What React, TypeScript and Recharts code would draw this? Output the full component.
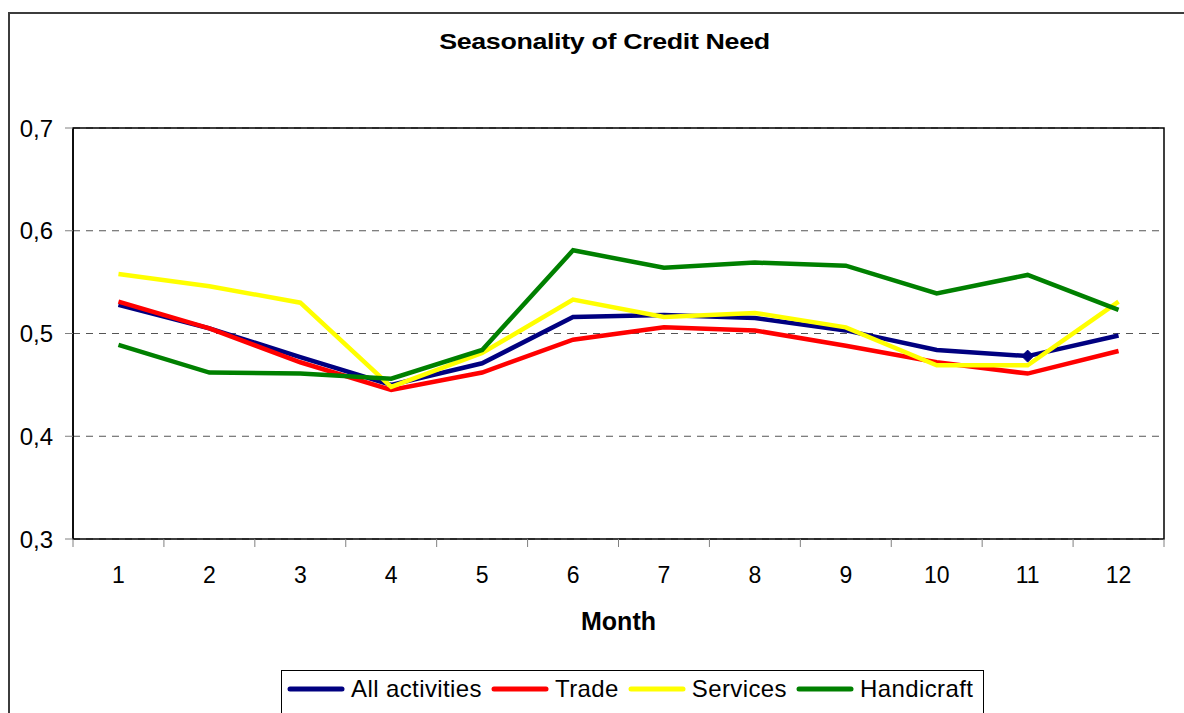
import React from 'react';
import {
  LineChart, Line, XAxis, YAxis, CartesianGrid, Legend, ReferenceArea, Label,
} from 'recharts';

const months = ['1', '2', '3', '4', '5', '6', '7', '8', '9', '10', '11', '12'];
const allActivities = [0.528, 0.505, 0.477, 0.45, 0.471, 0.516, 0.518, 0.515, 0.503, 0.484, 0.478, 0.498];
const trade = [0.531, 0.505, 0.472, 0.445, 0.462, 0.494, 0.506, 0.503, 0.488, 0.472, 0.461, 0.483];
const services = [0.558, 0.546, 0.53, 0.448, 0.481, 0.533, 0.516, 0.52, 0.506, 0.469, 0.469, 0.531];
const handicraft = [0.489, 0.462, 0.461, 0.456, 0.484, 0.581, 0.564, 0.569, 0.566, 0.539, 0.557, 0.523];
const seriesNames = ['All activities', 'Trade', 'Services', 'Handicraft'];
const yTicks = [0.3, 0.4, 0.5, 0.6, 0.7];

const data = months.map((m, i) => ({
  month: m,
  all: allActivities[i],
  trade: trade[i],
  services: services[i],
  handicraft: handicraft[i],
}));

const FONT = '"Liberation Sans", Arial, sans-serif';
const TICK_LEN = 8;
const TICK_GAP = 20;

// Excel only marked one point of the first series
const DiamondDot = (props: any) => {
  const { cx, cy, index } = props;
  if (index !== 10 || cx == null) return null;
  const r = 6;
  return (
    <polygon
      points={`${cx},${cy - r} ${cx + r},${cy} ${cx},${cy + r} ${cx - r},${cy}`}
      fill="#000080"
      stroke="#000080"
    />
  );
};

// label in the middle of the band, tick marks on the band edges (Excel style)
const MonthTick = (props: any) => {
  const { x, y, payload, index, visibleTicksCount } = props;
  const half = payload.offset || 0;
  const axisY = y - TICK_LEN - TICK_GAP;
  const last = index === visibleTicksCount - 1;
  return (
    <g>
      <line x1={x - half} y1={axisY} x2={x - half} y2={axisY + TICK_LEN} stroke="#808080" />
      {last && <line x1={x + half} y1={axisY} x2={x + half} y2={axisY + TICK_LEN} stroke="#808080" />}
      <text x={x} y={y} dy="0.71em" textAnchor="middle" fontSize={23} fill="#000">
        {payload.value}
      </text>
    </g>
  );
};

const LegendBox = ({ payload }: any) => {
  const items = [...(payload || [])].sort(
    (a: any, b: any) => seriesNames.indexOf(a.value) - seriesNames.indexOf(b.value),
  );
  return (
    <div
      style={{
        border: '1px solid #000',
        background: '#fff',
        height: 60,
        boxSizing: 'border-box',
        display: 'flex',
        alignItems: 'center',
        paddingLeft: 5,
        paddingBottom: 22,
        fontFamily: FONT,
        fontSize: 24,
        color: '#000',
        whiteSpace: 'nowrap',
        overflow: 'hidden',
      }}
    >
      {items.map((p: any) => (
        <div key={p.value} style={{ display: 'flex', alignItems: 'center', marginRight: 9, flexShrink: 0 }}>
          <svg width={58} height={8} style={{ marginRight: 6 }}>
            <line x1={3} y1={4} x2={55} y2={4} stroke={p.color} strokeWidth={5} strokeLinecap="round" />
          </svg>
          <span style={{ lineHeight: '24px', letterSpacing: 0.4 }}>{p.value}</span>
        </div>
      ))}
    </div>
  );
};

export default function App() {
  return (
    <div style={{ position: 'relative', width: 1184, height: 713, overflow: 'hidden', background: '#fff' }}>
      <style>{'body{margin:0;overflow:hidden}'}</style>
      <div
        style={{
          position: 'absolute',
          left: 8,
          top: 12,
          width: 1200,
          height: 720,
          border: '2px solid #3c3c3c',
        }}
      >
        <div
          style={{
            position: 'absolute',
            left: 0,
            top: 17,
            width: 1189,
            textAlign: 'center',
            fontFamily: FONT,
            fontWeight: 'bold',
            fontSize: 22,
            lineHeight: '22px',
            letterSpacing: -0.3,
            color: '#000',
          }}
        >
          <span style={{ display: 'inline-block', transform: 'scaleX(1.22)' }}>Seasonality of Credit Need</span>
        </div>
        <LineChart
          width={1200}
          height={720}
          data={data}
          margin={{ top: 114, right: 46, left: 0, bottom: 100 }}
          style={{ fontFamily: FONT }}
        >
          <XAxis
            dataKey="month"
            scale="band"
            tickLine={false}
            axisLine={false}
            tickSize={TICK_LEN}
            tickMargin={TICK_GAP}
            height={95}
            interval={0}
            tick={<MonthTick />}
          >
            <Label value="Month" position="insideBottom" offset={4} fontSize={25} fontWeight="bold" fill="#000" />
          </XAxis>
          <YAxis
            domain={[0.3, 0.7]}
            ticks={yTicks}
            width={63}
            tickSize={8}
            tickMargin={12}
            tickLine={{ stroke: '#808080' }}
            axisLine={{ stroke: '#000', strokeWidth: 1.5 }}
            tickFormatter={(v: number) => v.toFixed(1).replace('.', ',')}
            tick={{ fontSize: 24, fill: '#000' }}
          />
          <CartesianGrid vertical={false} stroke="#555" strokeDasharray="7 6" />
          <ReferenceArea y1={0.3} y2={0.7} fill="none" stroke="#000" strokeWidth={1.5} />
          <Line dataKey="all" name={seriesNames[0]} stroke="#000080" strokeWidth={4.5} dot={<DiamondDot />} activeDot={false} isAnimationActive={false} />
          <Line dataKey="trade" name={seriesNames[1]} stroke="#ff0000" strokeWidth={4.5} dot={false} activeDot={false} isAnimationActive={false} />
          <Line dataKey="services" name={seriesNames[2]} stroke="#ffff00" strokeWidth={4.5} dot={false} activeDot={false} isAnimationActive={false} />
          <Line dataKey="handicraft" name={seriesNames[3]} stroke="#008000" strokeWidth={4.5} dot={false} activeDot={false} isAnimationActive={false} />
          <Legend
            layout="horizontal"
            align="center"
            verticalAlign="middle"
            content={<LegendBox />}
            wrapperStyle={{ left: 271, top: 656, width: 703, height: 60 }}
          />
        </LineChart>
      </div>
    </div>
  );
}
